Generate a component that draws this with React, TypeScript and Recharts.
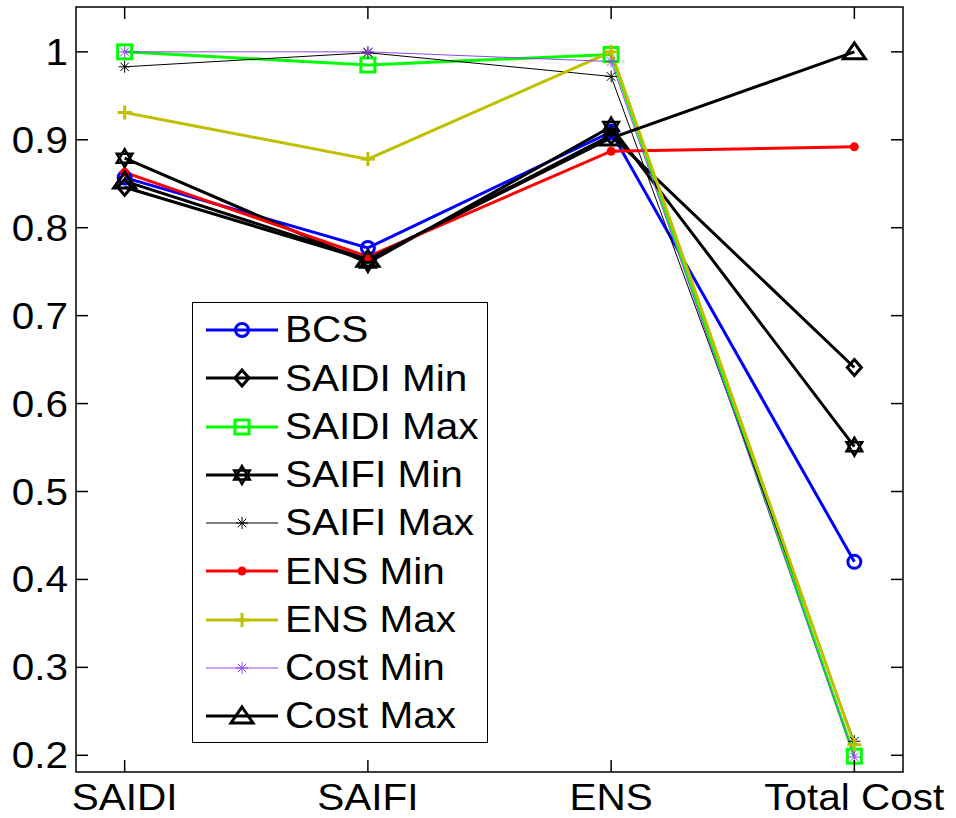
import React from "react";
import {
  LineChart,
  Line,
  XAxis,
  YAxis,
  Legend,
  ReferenceArea,
} from "recharts";

const criteria = ["SAIDI", "SAIFI", "ENS", "Total Cost"];
const yTicks = [0.2, 0.3, 0.4, 0.5, 0.6, 0.7, 0.8, 0.9, 1];

const bcs = [0.857, 0.777, 0.909, 0.42];
const saidiMin = [0.846, 0.763, 0.905, 0.641];
const saidiMax = [1.0, 0.985, 0.997, 0.199];
const saifiMin = [0.879, 0.76, 0.915, 0.551];
const saifiMax = [0.983, 0.999, 0.972, 0.216];
const ensMin = [0.863, 0.767, 0.887, 0.892];
const ensMax = [0.931, 0.878, 1.0, 0.212];
const costMin = [1.0, 1.0, 0.989, 0.198];
const costMax = [0.853, 0.764, 0.902, 1.0];

type Shape = "o" | "d" | "s" | "h" | "*" | "." | "+" | "^";

const series: {
  key: string;
  values: number[];
  color: string;
  width: number;
  shape: Shape;
}[] = [
  { key: "BCS", values: bcs, color: "#0000ff", width: 3, shape: "o" },
  { key: "SAIDI Min", values: saidiMin, color: "#000000", width: 3, shape: "d" },
  { key: "SAIDI Max", values: saidiMax, color: "#00ff00", width: 3, shape: "s" },
  { key: "SAIFI Min", values: saifiMin, color: "#000000", width: 3, shape: "h" },
  { key: "SAIFI Max", values: saifiMax, color: "#000000", width: 1, shape: "*" },
  { key: "ENS Min", values: ensMin, color: "#ff0000", width: 3, shape: "." },
  { key: "ENS Max", values: ensMax, color: "#bfbf00", width: 3, shape: "+" },
  { key: "Cost Min", values: costMin, color: "#9146f0", width: 1, shape: "*" },
  { key: "Cost Max", values: costMax, color: "#000000", width: 3, shape: "^" },
];

const data = criteria.map((label, i) => {
  const row: Record<string, number | string> = { x: i + 1, label };
  series.forEach((s) => {
    row[s.key] = s.values[i];
  });
  return row;
});

const W = 956;
const H = 818;
const M = { top: 7, right: 53, left: 0, bottom: 0 };
const Y_AXIS_W = 76;
const X_AXIS_H = 46;
const PLOT_W = W - M.left - M.right - Y_AXIS_W;
const PLOT_H = H - M.top - M.bottom - X_AXIS_H;
const TICK = 12;
const FONT = "'Liberation Sans', Arial, sans-serif";
const FS = 37.5;
const STRETCH = 1.08;

function Marker({ shape, cx, cy, color, sw }: { shape: Shape; cx: number; cy: number; color: string; sw: number }) {
  const st = { stroke: color, strokeWidth: sw, fill: "none" };
  switch (shape) {
    case "o":
      return <circle cx={cx} cy={cy} r={6.5} {...st} />;
    case "d":
      return <polygon points={`${cx},${cy - 8} ${cx + 7},${cy} ${cx},${cy + 8} ${cx - 7},${cy}`} {...st} />;
    case "s":
      return <rect x={cx - 7} y={cy - 7} width={14} height={14} {...st} />;
    case "h": {
      const r = 9;
      const tri = (start: number) =>
        [0, 1, 2]
          .map((k) => {
            const t = (start + k * 120) * (Math.PI / 180);
            return `${cx + r * Math.cos(t)},${cy + r * Math.sin(t)}`;
          })
          .join(" ");
      return (
        <g>
          <polygon points={tri(-90)} {...st} strokeWidth={2.5} />
          <polygon points={tri(90)} {...st} strokeWidth={2.5} />
        </g>
      );
    }
    case "*": {
      const r = 6;
      const d = r * 0.72;
      return (
        <g stroke={color} strokeWidth={1}>
          <line x1={cx - r} y1={cy} x2={cx + r} y2={cy} />
          <line x1={cx} y1={cy - r} x2={cx} y2={cy + r} />
          <line x1={cx - d} y1={cy - d} x2={cx + d} y2={cy + d} />
          <line x1={cx - d} y1={cy + d} x2={cx + d} y2={cy - d} />
        </g>
      );
    }
    case ".":
      return <circle cx={cx} cy={cy} r={4.5} fill={color} />;
    case "+":
      return (
        <g stroke={color} strokeWidth={3}>
          <line x1={cx - 7} y1={cy} x2={cx + 7} y2={cy} />
          <line x1={cx} y1={cy - 7} x2={cx} y2={cy + 7} />
        </g>
      );
    case "^":
      return <polygon points={`${cx},${cy - 9} ${cx + 11},${cy + 7} ${cx - 11},${cy + 7}`} {...st} />;
  }
  return null;
}

function Label({ x, y, anchor, children }: { x: number; y: number; anchor: "start" | "middle" | "end"; children: React.ReactNode }) {
  return (
    <text
      transform={`translate(${x},${y}) scale(${STRETCH},1)`}
      textAnchor={anchor}
      fontSize={FS}
      fontFamily={FONT}
      fill="#000"
    >
      {children}
    </text>
  );
}

function XTick(props: any) {
  const { x, y, payload } = props;
  return (
    <g>
      <line x1={x} y1={y} x2={x} y2={y - TICK} stroke="#000" strokeWidth={1.5} />
      <line x1={x} y1={y - PLOT_H} x2={x} y2={y - PLOT_H + TICK} stroke="#000" strokeWidth={1.5} />
      <Label x={x} y={y + 38} anchor="middle">
        {criteria[payload.value - 1]}
      </Label>
    </g>
  );
}

function YTick(props: any) {
  const { x, y, payload } = props;
  return (
    <g>
      <line x1={x} y1={y} x2={x + TICK} y2={y} stroke="#000" strokeWidth={1.5} />
      <line x1={x + PLOT_W} y1={y} x2={x + PLOT_W - TICK} y2={y} stroke="#000" strokeWidth={1.5} />
      <Label x={x - 8} y={y + 13} anchor="end">
        {payload.value}
      </Label>
    </g>
  );
}

// legend in plot order (Recharts would sort the payload by name)
function LegendBox() {
  return (
    <div
      style={{
        width: 294,
        height: 436,
        border: "1.5px solid #000",
        background: "#fff",
        paddingTop: 3,
      }}
    >
      {series.map((s) => {
        const sw = s.shape === "h" ? 2.5 : s.width === 1 ? 1 : 3;
        return (
          <div key={s.key} style={{ display: "flex", alignItems: "center", height: 48.25 }}>
            <svg width={92} height={30} style={{ flex: "none" }}>
              <line x1={13} y1={15} x2={85} y2={15} stroke={s.color} strokeWidth={s.width === 1 ? 1 : 3} />
              <Marker shape={s.shape} cx={49} cy={15} color={s.color} sw={sw} />
            </svg>
            <span
              style={{
                fontFamily: FONT,
                fontSize: FS,
                color: "#000",
                lineHeight: 1,
                whiteSpace: "nowrap",
                display: "inline-block",
                transform: `scaleX(${STRETCH})`,
                transformOrigin: "left center",
              }}
            >
              {s.key}
            </span>
          </div>
        );
      })}
    </div>
  );
}

export default function App() {
  return (
    <div style={{ position: "absolute", left: 0, top: 0, width: W, height: H, background: "#fff", overflow: "hidden" }}>
      <LineChart width={W} height={H} data={data} margin={M}>
        <XAxis
          dataKey="x"
          type="number"
          domain={[0.8, 4.2]}
          ticks={[1, 2, 3, 4]}
          height={X_AXIS_H}
          axisLine={false}
          tickLine={false}
          tickSize={0}
          tickMargin={0}
          tick={<XTick />}
          allowDataOverflow
        />
        <YAxis
          type="number"
          domain={[0.181, 1.051]}
          ticks={yTicks}
          width={Y_AXIS_W}
          axisLine={false}
          tickLine={false}
          tickSize={0}
          tickMargin={0}
          tick={<YTick />}
          allowDataOverflow
        />
        <ReferenceArea x1={0.8} x2={4.2} y1={0.181} y2={1.051} stroke="#000" strokeWidth={1.5} fill="none" ifOverflow="visible" />
        {series.map((s) => (
          <Line
            key={s.key}
            dataKey={s.key}
            name={s.key}
            stroke={s.color}
            strokeWidth={s.width}
            isAnimationActive={false}
            dot={(dp: any) => (
              <Marker
                key={`${s.key}-${dp.index}`}
                shape={s.shape}
                cx={dp.cx}
                cy={dp.cy}
                color={s.color}
                sw={s.shape === "h" ? 2.5 : s.width === 1 ? 1 : 3}
              />
            )}
            activeDot={false}
          />
        ))}
        <Legend
          layout="vertical"
          align="center"
          verticalAlign="middle"
          content={<LegendBox />}
          wrapperStyle={{ position: "absolute", left: 192, top: 302, width: 298, height: 442 }}
        />
      </LineChart>
    </div>
  );
}
